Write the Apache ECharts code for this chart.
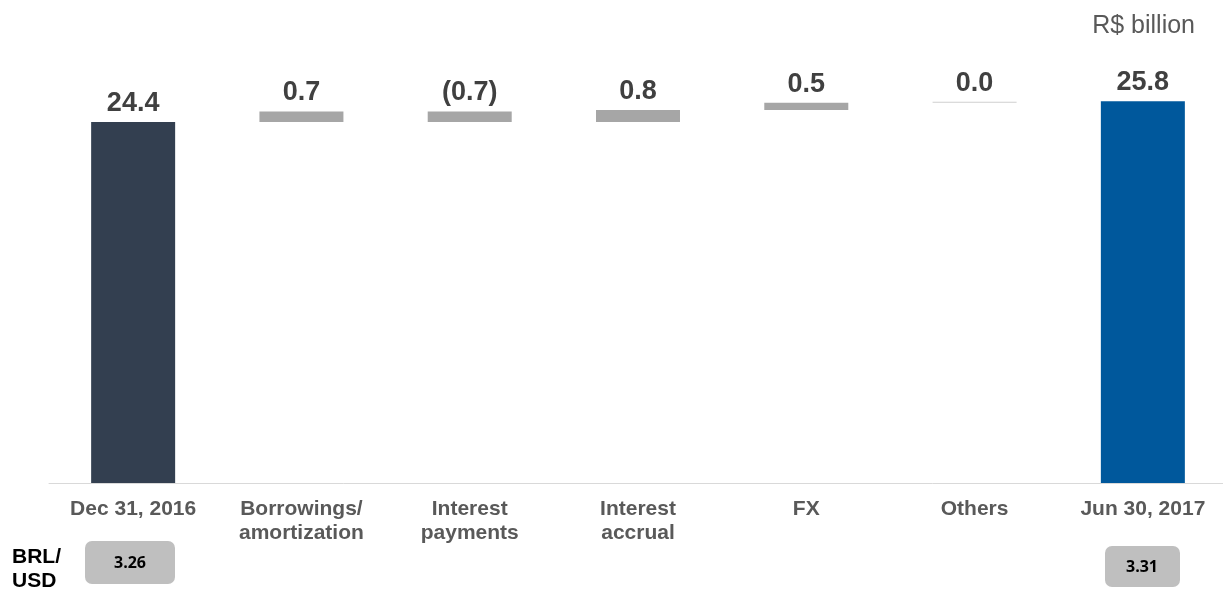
<!DOCTYPE html>
<html>
<head>
<meta charset="utf-8">
<script src="https://cdn.jsdelivr.net/npm/echarts@6/dist/echarts.min.js"></script>
<style>
html,body{margin:0;padding:0;background:#fff;overflow:hidden;}
#chart{width:1232px;height:590px;}
</style>
</head>
<body>
<div id="chart"></div>
<script>
const categories = ['Dec 31, 2016', 'Borrowings/\namortization', 'Interest\npayments', 'Interest\naccrual', 'FX', 'Others', 'Jun 30, 2017'];
const startValue = 24.4;
const endValue = 25.8;
const changes = [0.7, -0.7, 0.8, 0.5, 0.0];
const fxRateStart = '3.26';
const fxRateEnd = '3.31';
const unitLabel = 'R$ billion';
const fxLabel = 'BRL/\nUSD';

const FONT = "'Liberation Sans', Arial, sans-serif";
const colorStart = '#333f50';
const colorEnd = '#00589c';
const colorChange = '#a6a6a6';
const colorZero = '#cfcfcf';

// build waterfall
const baseData = [0];
const barData = [{ value: startValue, itemStyle: { color: colorStart } }];
const signed = [startValue];
let cum = startValue;
changes.forEach(d => {
  const next = +(cum + d).toFixed(2);
  baseData.push(Math.min(cum, next));
  barData.push({ value: Math.abs(d), itemStyle: { color: d === 0 ? colorZero : colorChange } });
  signed.push(d);
  cum = next;
});
baseData.push(0);
barData.push({ value: endValue, itemStyle: { color: colorEnd } });
signed.push(endValue);

function fmt(v) {
  return v < 0 ? '(' + Math.abs(v).toFixed(1) + ')' : v.toFixed(1);
}

const chart = echarts.init(document.getElementById('chart'));
chart.setOption({
  animation: false,
  backgroundColor: '#fff',
  grid: { left: 49, top: 39, width: 1178, height: 444, containLabel: false },
  xAxis: {
    type: 'category',
    data: categories,
    axisLine: { lineStyle: { color: '#d9d9d9', width: 1 } },
    axisTick: { show: false },
    axisLabel: {
      interval: 0, margin: 14, lineHeight: 24,
      color: '#595959', fontFamily: FONT, fontWeight: 'bold', fontSize: 21
    }
  },
  yAxis: { type: 'value', min: 0, max: 30, show: false, splitLine: { show: false } },
  series: [
    {
      type: 'bar', stack: 'w', data: baseData, barWidth: 84,
      itemStyle: { color: 'transparent' }, silent: true
    },
    {
      type: 'bar', stack: 'w', data: barData, barWidth: 84, barMinHeight: 1,
      label: {
        show: true, position: 'top', distance: 5,
        color: '#404040', fontFamily: FONT, fontWeight: 'bold', fontSize: 27,
        formatter: p => fmt(signed[p.dataIndex])
      }
    }
  ],
  graphic: [
    { type: 'text', x: 1195, y: 14, style: { text: unitLabel, fill: '#595959', font: '25px ' + FONT, align: 'right' } },
    { type: 'text', left: 12, top: 545, style: { text: fxLabel, fill: '#000', font: 'bold 21px ' + FONT, lineHeight: 24 } },
    { type: 'rect', shape: { x: 85, y: 541, width: 90, height: 43, r: 7 }, style: { fill: '#bfbfbf' } },
    { type: 'text', x: 130, y: 563, style: { text: fxRateStart, fill: '#000', font: "bold 16px 'Open Sans', sans-serif", align: 'center', verticalAlign: 'middle' } },
    { type: 'rect', shape: { x: 1105, y: 546, width: 75, height: 41, r: 7 }, style: { fill: '#bfbfbf' } },
    { type: 'text', x: 1142, y: 567, style: { text: fxRateEnd, fill: '#000', font: "bold 16px 'Open Sans', sans-serif", align: 'center', verticalAlign: 'middle' } }
  ]
});
</script>
</body>
</html>
